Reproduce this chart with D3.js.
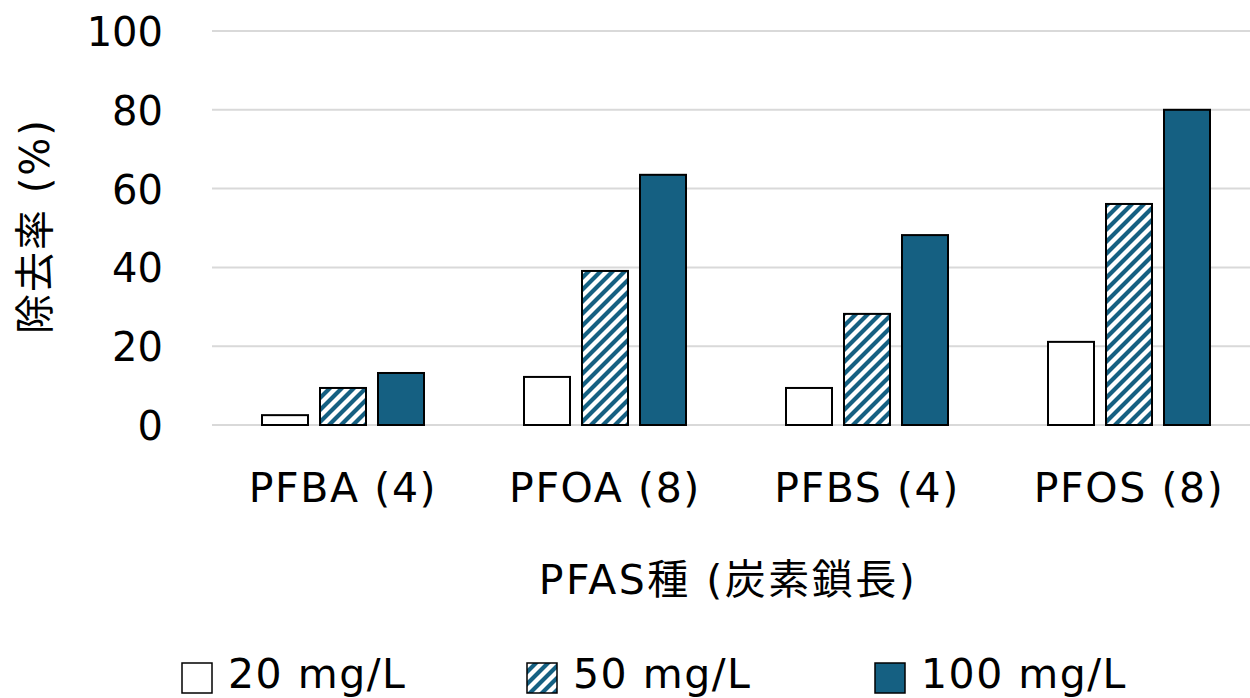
<!DOCTYPE html>
<html><head><meta charset="utf-8">
<script src="https://cdn.jsdelivr.net/npm/d3@7"></script>
<style>
body{margin:0;background:#fff;}
text{font-family:"DejaVu Sans","Noto Sans CJK JP",sans-serif;fill:#000;}
</style></head>
<body>
<svg id="chart" width="1250" height="698"></svg>
<script>
const categories = ["PFBA (4)", "PFOA (8)", "PFBS (4)", "PFOS (8)"];
const seriesNames = ["20 mg/L", "50 mg/L", "100 mg/L"];
const s20 = [2.5, 12.2, 9.4, 21.1];
const s50 = [9.4, 39.1, 28.2, 56.1];
const s100 = [13.2, 63.5, 48.2, 80.0];
const yTicks = [0, 20, 40, 60, 80, 100];
const yTitle = "除去率 (%)";
const xTitle = "PFAS種 (炭素鎖長)";

const series = [s20, s50, s100];
const accent = "#156082";
const svg = d3.select("#chart");
const defs = svg.append("defs");
const pat = defs.append("pattern").attr("id","hatch").attr("patternUnits","userSpaceOnUse")
  .attr("width",12).attr("height",12);
pat.append("rect").attr("width",12).attr("height",12).attr("fill","#fff");
pat.append("path").attr("d","M-3,3 L3,-3 M0,12 L12,0 M9,15 L15,9")
  .attr("stroke",accent).attr("stroke-width",4.2);
const fills = ["#fff","url(#hatch)",accent];

const x = d3.scaleBand().domain(categories).range([212,1260]).paddingInner(0).paddingOuter(0);
const y = d3.scaleLinear().domain([0,100]).range([425,31]);
const xs = d3.scaleBand().domain(d3.range(3)).range([0,162]).paddingInner(12/58);

// gridlines
svg.append("g").selectAll("line").data(yTicks).join("line")
  .attr("x1",212).attr("x2",1250).attr("y1",d=>y(d)).attr("y2",d=>y(d))
  .attr("stroke","#d9d9d9").attr("stroke-width",2);

// y axis labels
const yAxis = d3.axisLeft(y).tickValues(yTicks).tickSize(0).tickPadding(0);
const ga = svg.append("g").attr("transform","translate(163,0)").call(yAxis);
ga.select(".domain").remove();
ga.selectAll("text").attr("font-size",40).attr("font-family","DejaVu Sans").attr("dy","0.36em").attr("fill","#000");

// bars
const groups = svg.append("g").selectAll("g").data(categories).join("g")
  .attr("transform",d=>`translate(${x(d)+(x.bandwidth()-162)/2},0)`);
groups.selectAll("rect").data((c,i)=>series.map((s,k)=>({k,v:s[i]}))).join("rect")
  .attr("x",d=>xs(d.k)).attr("width",xs.bandwidth())
  .attr("y",d=>y(d.v)).attr("height",d=>y(0)-y(d.v))
  .attr("fill",d=>fills[d.k]).attr("stroke","#000").attr("stroke-width",2);

// x axis labels
const xAxis = d3.axisBottom(x).tickSize(0).tickPadding(0);
const gx = svg.append("g").attr("transform","translate(0,502)").call(xAxis);
gx.select(".domain").remove();
gx.selectAll("text").attr("font-size",41).attr("dy",0).attr("font-family","DejaVu Sans").attr("fill","#000").attr("letter-spacing","1.6px");

// titles
svg.append("text").attr("x",728).attr("y",594).attr("text-anchor","middle").attr("font-size",41).attr("letter-spacing","2.5px").text(xTitle);
svg.append("text").attr("transform","translate(49,226) rotate(-90)").attr("text-anchor","middle").attr("font-size",40).attr("letter-spacing","2px").text(yTitle);

// legend
const legX = [182,527,875];
const lg = svg.append("g").selectAll("g").data(seriesNames).join("g")
  .attr("transform",(d,i)=>`translate(${legX[i]},0)`);
lg.append("rect").attr("x",0).attr("y",663).attr("width",30).attr("height",30)
  .attr("fill",(d,i)=>fills[i]).attr("stroke","#000").attr("stroke-width",1.5);
lg.append("text").attr("x",46).attr("y",688).attr("font-size",41).attr("letter-spacing","1.5px").text(d=>d);
</script>
</body></html>
